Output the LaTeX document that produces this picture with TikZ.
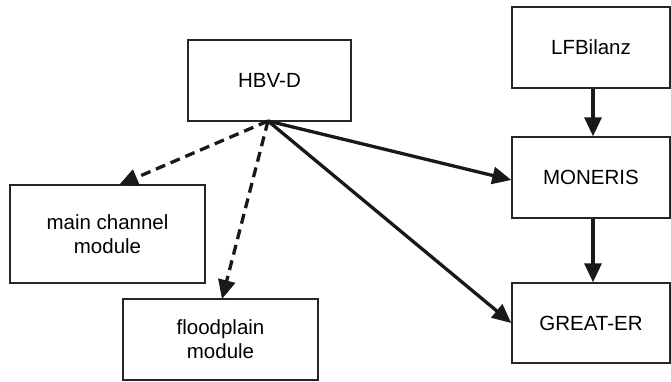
\documentclass[tikz,border=0pt]{standalone}
\usepackage{fontspec}
\setmainfont{Liberation Sans}
\usetikzlibrary{arrows.meta}
\begin{document}
\begin{tikzpicture}[x=1pt,y=-1pt,
  box/.style={draw=black!85,line width=1.4pt,inner sep=0pt,align=center,
    font=\fontsize{20.5}{24}\selectfont},
  conn/.style={line width=3.3pt,draw=black!90,-{Triangle[length=19pt,width=17pt]}},
  dconn/.style={conn,dash pattern=on 10pt off 6pt}]
\useasboundingbox (0,0) rectangle (671,382);
\node[box,minimum width=163pt,minimum height=81pt] (hbv) at (269.5,80.5) {HBV-D};
\node[box,minimum width=195pt,minimum height=98pt] (main) at (107.5,234) {main channel\\module};
\node[box,minimum width=195pt,minimum height=81pt] (flood) at (220.5,339.5) {floodplain\\module};
\node[box,minimum width=158pt,minimum height=81pt] (lfb) at (591,47.5) {LFBilanz};
\node[box,minimum width=158pt,minimum height=81pt] (mon) at (591,177.5) {MONERIS};
\node[box,minimum width=158pt,minimum height=80pt] (great) at (591,323) {GREAT-ER};
\coordinate (src) at (268,121);
\coordinate (mainin) at (119,185);
\coordinate (floodin) at (222,299);
\draw[dconn] (src) -- (mainin);
\draw[dconn] (src) -- (floodin);
\draw[conn] (src) -- (mon.west |- 0,180);
\draw[conn] (src) -- (great.west);
\draw[conn] (lfb.south -| 593,0) -- (mon.north -| 593,0);
\draw[conn] (mon.south -| 593,0) -- (great.north -| 593,0);
\end{tikzpicture}
\end{document}
